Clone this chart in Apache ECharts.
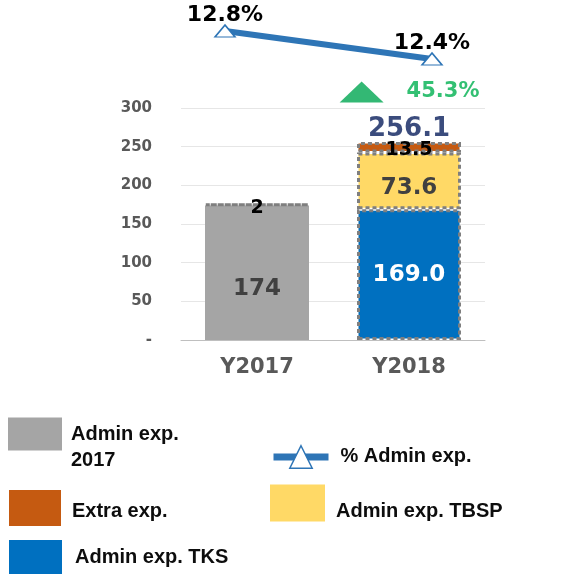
<!DOCTYPE html>
<html><head><meta charset="utf-8">
<script src="https://cdn.jsdelivr.net/npm/echarts@6/dist/echarts.min.js"></script>
<style>html,body{margin:0;padding:0;background:#fff}#c{width:576px;height:574px}</style>
</head><body><div id="c"></div>
<script>
const categories = ['Y2017', 'Y2018'];
const adminExp2017 = [174, null];
const adminExpTKS = [null, 169.0];
const adminExpTBSP = [null, 73.6];
const extraExp = [2, 13.5];
const totals = [null, 256.1];
const pctAdminExp = [12.8, 12.4];
const growthLabel = '45.3%';
const growthPoint = [0.66, 11.93];
const yMax = 300, yStep = 50;

const NUM = 'DejaVu Sans';
const LEG = 'Liberation Sans';
const dotted = {borderColor: '#7f7f7f', borderWidth: 3, borderType: [4, 3]};

const fmt1 = p => p.value == null ? '' : (p.dataIndex === 1 ? p.value.toFixed(1) : String(p.value));

const chart = echarts.init(document.getElementById('c'), null, {renderer: 'canvas'});
const legText = {fontFamily: LEG, fontWeight: 'bold', fontSize: 20, color: '#0d0d0d'};
chart.setOption({
  animation: false,
  grid: [
    {left: 181, right: 91, top: 108, bottom: 234},
    {left: 225, width: 207, top: 17, height: 105}
  ],
  xAxis: [
    {type: 'category', data: categories, gridIndex: 0,
     axisLine: {lineStyle: {color: '#bfbfbf', width: 1}}, axisTick: {show: false},
     axisLabel: {fontFamily: NUM, fontWeight: 'bold', fontSize: 21, color: '#595959', margin: 17}},
    {type: 'value', gridIndex: 1, min: 0, max: 1, show: false}
  ],
  yAxis: [
    {type: 'value', gridIndex: 0, min: 0, max: yMax, interval: yStep,
     axisLine: {show: false}, axisTick: {show: false},
     splitLine: {lineStyle: {color: '#e6e6e6', width: 1}},
     axisLabel: {fontFamily: NUM, fontWeight: 'bold', fontSize: 15, color: '#595959', margin: 29,
       formatter: v => v === 0 ? '-' : String(v)}},
    {type: 'value', gridIndex: 1, min: 11.5, max: 13, show: false}
  ],
  legend: [
    {data: ['Admin exp. 2017'], left: 8, top: 395, padding: 0, icon: 'rect', itemWidth: 54, itemHeight: 33,
     formatter: () => '\nAdmin exp.\n2017', itemStyle: {borderWidth: 0},
     textStyle: Object.assign({}, legText, {lineHeight: 26, padding: [0, 0, 0, 4]})},
    {data: ['Extra exp.'], left: 9, top: 486, padding: 0, icon: 'rect', itemWidth: 52, itemHeight: 36,
     formatter: n => '{s|}\n{t|' + n + '}', itemStyle: {borderWidth: 0},
     textStyle: Object.assign({}, legText, {padding: [0, 0, 0, 6],
       rich: {s: {lineHeight: 6}, t: Object.assign({}, legText, {lineHeight: 24})}})},
    {data: ['Admin exp. TKS'], left: 9, top: 540, padding: 0, icon: 'rect', itemWidth: 53, itemHeight: 34,
     itemStyle: {borderWidth: 0}, textStyle: Object.assign({}, legText, {padding: [0, 0, 0, 8]})},
    {data: ['% Admin exp.'], left: 270, top: 445, padding: 0, itemWidth: 55, itemHeight: 28,
     itemStyle: {color: '#fff', borderColor: '#2e75b6', borderWidth: 1.5},
     lineStyle: {width: 7, color: '#2e75b6'},
     textStyle: Object.assign({}, legText, {padding: [0, 0, 0, 7]})},
    {data: ['Admin exp. TBSP'], left: 270, top: 481, padding: 0, icon: 'rect', itemWidth: 55, itemHeight: 37,
     formatter: n => '{s|}\n{t|' + n + '}', itemStyle: {borderWidth: 0},
     textStyle: Object.assign({}, legText, {padding: [0, 0, 0, 6],
       rich: {s: {lineHeight: 16}, t: Object.assign({}, legText, {lineHeight: 24})}})}
  ],
  series: [
    {name: 'Admin exp. 2017', type: 'bar', stack: 's', barWidth: 104, data: adminExp2017,
     itemStyle: {color: '#a5a5a5'},
     label: {show: true, position: 'inside', offset: [0, 16], formatter: fmt1,
       fontFamily: NUM, fontWeight: 'bold', fontSize: 23, color: '#404040'}},
    {name: 'Admin exp. TKS', type: 'bar', stack: 's', barWidth: 104, data: adminExpTKS,
     itemStyle: Object.assign({color: '#0070c0'}, dotted),
     label: {show: true, position: 'inside', formatter: fmt1,
       fontFamily: NUM, fontWeight: 'bold', fontSize: 23, color: '#ffffff'}},
    {name: 'Admin exp. TBSP', type: 'bar', stack: 's', barWidth: 104, data: adminExpTBSP,
     itemStyle: Object.assign({color: '#ffd966'}, dotted),
     label: {show: true, position: 'inside', offset: [0, 7], formatter: fmt1,
       fontFamily: NUM, fontWeight: 'bold', fontSize: 23, color: '#404040'}},
    {name: 'Extra exp.', type: 'bar', stack: 's', barWidth: 104, data: extraExp,
     itemStyle: Object.assign({color: '#c55a11'}, dotted),
     label: {show: true, position: 'inside', offset: [0, 3], formatter: fmt1,
       fontFamily: NUM, fontWeight: 'bold', fontSize: 19, color: '#000'}},
    {name: 'Total', type: 'scatter', data: totals, symbolSize: 1,
     itemStyle: {color: 'rgba(0,0,0,0)'},
     label: {show: true, position: 'top', distance: -1, formatter: p => p.value == null ? '' : p.value.toFixed(1),
       fontFamily: NUM, fontWeight: 'bold', fontSize: 26, color: '#0a1f5c'}},
    {name: '% Admin exp.', type: 'line', xAxisIndex: 1, yAxisIndex: 1,
     data: pctAdminExp.map((v, i) => [i, v]),
     symbol: 'triangle', symbolSize: [20, 12], showSymbol: true,
     lineStyle: {width: 6, color: '#2e75b6'},
     itemStyle: {color: '#fff', borderColor: '#2e75b6', borderWidth: 1.5},
     label: {show: true, position: 'top', distance: -2, formatter: p => p.value[1].toFixed(1) + '%',
       fontFamily: NUM, fontWeight: 'bold', fontSize: 22, color: '#000'}},
    {name: 'Growth', type: 'scatter', xAxisIndex: 1, yAxisIndex: 1,
     data: [growthPoint], symbol: 'triangle', symbolSize: [44, 21],
     itemStyle: {color: '#00a651'},
     label: {show: true, position: 'right', distance: 23, formatter: () => growthLabel,
       fontFamily: NUM, fontWeight: 'bold', fontSize: 21, color: '#00b050'}}
  ]
});
</script></body></html>
